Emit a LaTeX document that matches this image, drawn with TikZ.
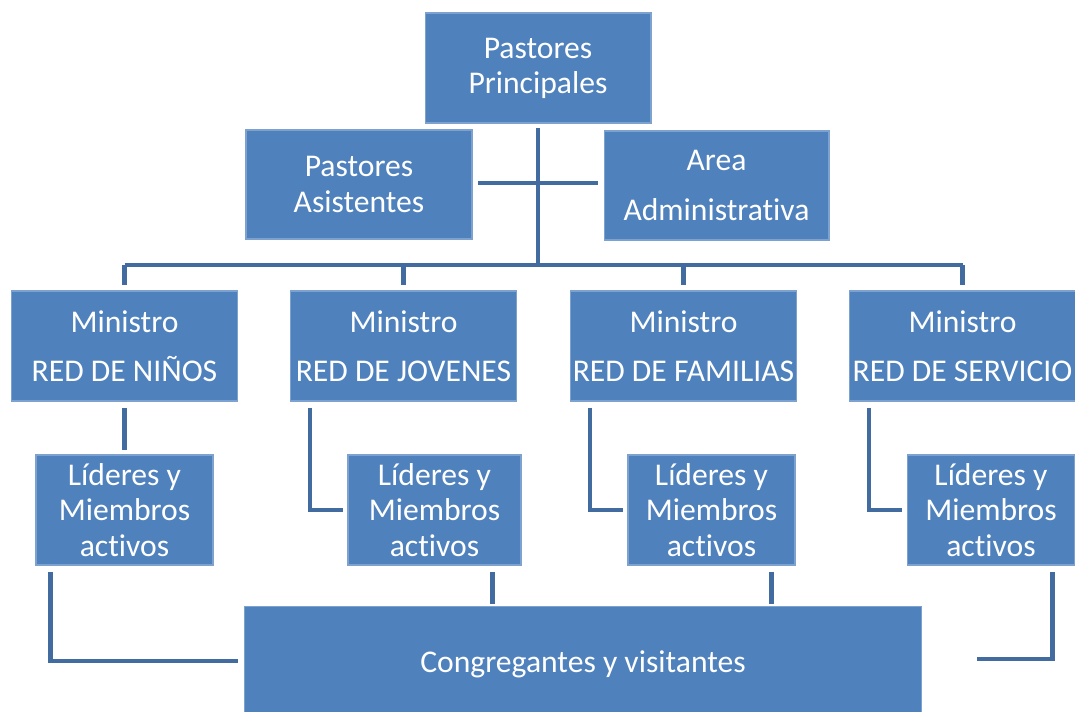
\documentclass[tikz,border=0pt]{standalone}
\usepackage{fontspec}
\setmainfont{Carlito}[Ligatures=CommonOff]
\usetikzlibrary{positioning,calc}
\definecolor{azul}{RGB}{79,129,189}
\definecolor{borde}{RGB}{125,162,208}
\definecolor{raya}{RGB}{66,108,160}
\tikzset{
  caja/.style={rectangle,draw=borde,fill=azul,line width=0.6pt,text=white,align=center,inner sep=0pt,
    font=\fontsize{18}{20}\selectfont,minimum width=4.52cm,minimum height=2.2cm},
  lider/.style={caja,minimum height=2.2cm},
  linea/.style={draw=raya,line width=2.8pt},
}

\begin{document}
\begin{tikzpicture}[x=0.02cm,y=-0.02cm]
  \useasboundingbox (0,0) rectangle (1075,711);
  % pastores
  \node[caja] (pp) at (538,68) {Pastores\\Principales};
  \node[caja,minimum height=2.18cm] (pa) at (359,184.5) {Pastores\\Asistentes};
  \node[caja,minimum width=4.5cm,minimum height=2.18cm] (ad) at (716.5,185.5) {Area\\[8pt]Administrativa};
  % ministros
  \node[caja] (m1) at (124.5,346) {Ministro\\[8pt]RED DE NIÑOS};
  \node[caja] (m2) at (403.5,346) {Ministro\\[8pt]RED DE JOVENES};
  \node[caja] (m3) at (683.5,346) {Ministro\\[8pt]RED DE FAMILIAS};
  \node[caja] (m4) at (962.5,346) {Ministro\\[8pt]RED DE SERVICIO};
  % lideres
  \node[lider,minimum width=3.54cm] (l1) at (124.5,510) {Líderes y\\Miembros\\activos};
  \node[lider,minimum width=3.46cm] (l2) at (434.5,510) {Líderes y\\Miembros\\activos};
  \node[lider,minimum width=3.34cm] (l3) at (711.5,510) {Líderes y\\Miembros\\activos};
  \node[lider,minimum width=3.36cm] (l4) at (991,510) {Líderes y\\Miembros\\activos};
  % congregacion
  \node[caja,minimum width=13.56cm,minimum height=2.3cm] (cg) at (583,664) {Congregantes y visitantes};

  % conexiones
  \coordinate (barra) at (538,265);
  \draw[linea,shorten <=2.8pt] (pp.south) -- (barra);
  \draw[linea,shorten <=3.4pt,shorten >=3.4pt] ($(pa.east)+(0,-1.5)$) -- ($(ad.west)+(0,-2.5)$);
  \draw[linea] (m1.north |- barra) -- (m4.north |- barra);
  \foreach \m in {m1,m2,m3,m4}
    \draw[linea,shorten >=3.4pt] (\m.north |- barra) -- (\m.north);
  \draw[linea,shorten <=3.4pt,shorten >=2.8pt] (m1.south) -- (m1.south |- l1.north);
  \foreach \m/\l in {m2/l2,m3/l3,m4/l4}
    \draw[linea,shorten <=3.4pt,shorten >=2.8pt] ($(\m.south west)+(20,0)$) |- (\l.west);
  \draw[linea,shorten <=3.4pt,shorten >=3.4pt] ($(l1.south west)+(15,0)$) |- ($(cg.west)+(0,-3)$);
  \coordinate (b2) at ($(l2.south east)+(-29,0)$);
  \coordinate (b3) at ($(l3.south east)+(-24,0)$);
  \draw[linea,shorten <=3.4pt,shorten >=1.2pt] (b2) -- (b2 |- cg.north);
  \draw[linea,shorten <=3.4pt,shorten >=1.2pt] (b3) -- (b3 |- cg.north);
  \coordinate (fin) at ($(cg.east)+(55,-5)$);
  \draw[linea,shorten <=3.4pt] ($(l4.south east)+(-23,0)$) |- (fin);
\end{tikzpicture}
\end{document}
